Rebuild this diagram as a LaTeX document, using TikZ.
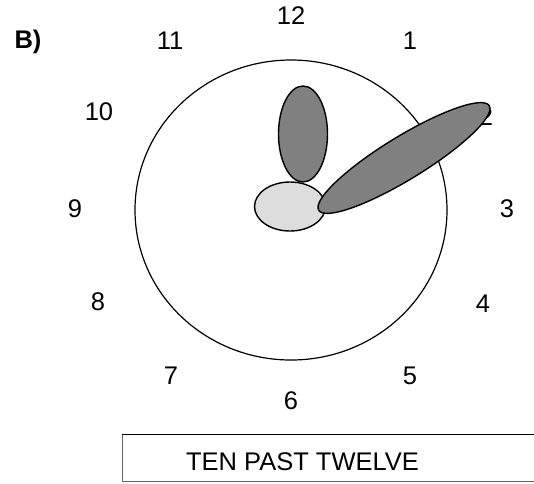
\documentclass[tikz,border=0pt]{standalone}
\usepackage{fontspec}
\setmainfont{Liberation Sans}
\begin{document}
\begin{tikzpicture}[x=1pt,y=-1pt,
  num/.style={font=\fontsize{25.5}{30}\selectfont, inner sep=0pt},
  hand/.style={draw=black, line width=1.4pt, fill=handgray},
  hub/.style={draw=black, line width=1.4pt, fill=hubgray}]
\definecolor{handgray}{HTML}{808080}
\definecolor{hubgray}{HTML}{DDDDDD}
\useasboundingbox (0,0) rectangle (534,483);
\node[num, font=\fontsize{25.5}{30}\selectfont\bfseries] (lab) at (28,42) {B)};
\draw[line width=1.2pt] (291,210) ellipse [x radius=156, y radius=150];
\node[num] (n12) at (291,16) {12};
\node[num] (n1) at (410,41) {1};
\node[num] (n2) at (486,117) {2};
\node[num] (n3) at (507,208.5) {3};
\node[num] (n4) at (483,304) {4};
\node[num] (n5) at (410,376) {5};
\node[num] (n6) at (291,401) {6};
\node[num] (n7) at (171,376) {7};
\node[num] (n8) at (98,302) {8};
\node[num] (n9) at (75,208.5) {9};
\node[num] (n10) at (99,112) {10};
\node[num] (n11) at (170,41) {11};
\draw[hand] (303,134) ellipse [x radius=24.5, y radius=48];
\draw[hub] (290,206.5) ellipse [x radius=35.5, y radius=24.5];
\draw[hand, rotate around={31.5:(404,158)}] (404,158) ellipse [x radius=100, y radius=21.5];
\coordinate (bl) at (122,481);
\coordinate (tl) at (122,434.5);
\coordinate (tr) at (534,434.5);
\coordinate (br) at (534,481);
\draw[line width=1.2pt] (tr) -- (tl);
\draw[line width=0.6pt, black!60] (tl) -- (bl) -- (br);
\node[num] (cap) at (302.5,462) {TEN PAST TWELVE};
\end{tikzpicture}
\end{document}
